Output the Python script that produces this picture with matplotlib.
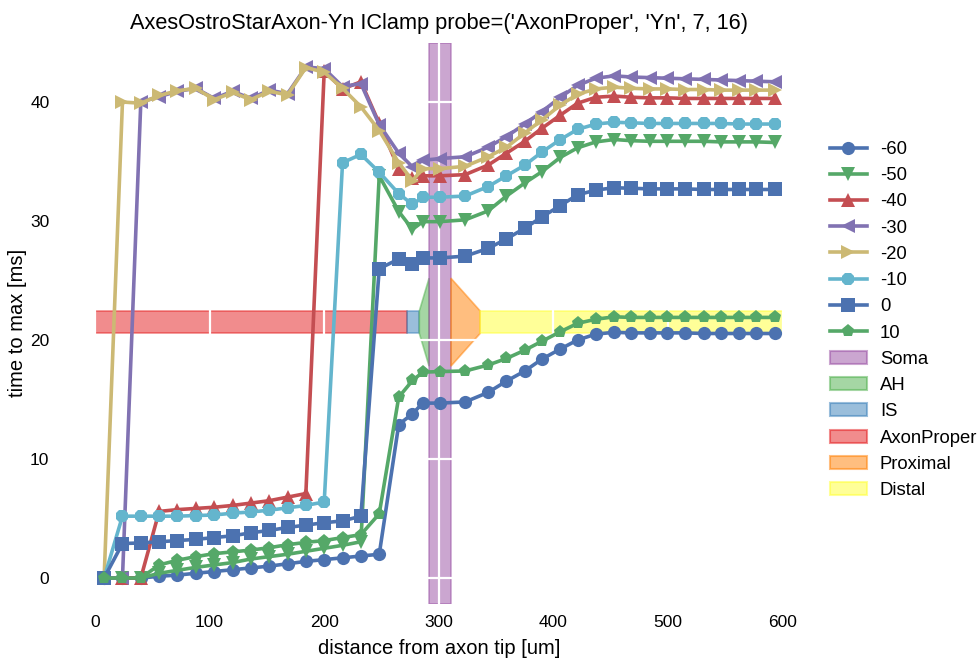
import matplotlib
matplotlib.use("Agg")
import matplotlib.pyplot as plt
from matplotlib.patches import Polygon, Patch

plt.rcParams['font.family'] = ['Liberation Sans', 'DejaVu Sans']

# distance from axon tip [um] for each sampled segment
dist = [8, 24, 40, 56, 72, 88, 104, 120, 136, 152, 168, 184, 200, 216, 232, 248,
        265, 277, 286, 301, 323, 343, 359, 375, 390, 406, 421, 437, 453, 468,
        484, 499, 515, 531, 546, 562, 577, 593]

labels = ['-60', '-50', '-40', '-30', '-20', '-10', '0', '10']

v_m60 = [0, 0, 0, 0.15, 0.25, 0.4, 0.55, 0.7, 0.85, 1.0, 1.2, 1.4, 1.55, 1.7, 1.85, 2.0,
         12.9, 13.8, 14.7, 14.7, 14.8, 15.6, 16.55, 17.4, 18.4, 19.25, 20.0, 20.5, 20.65, 20.6,
         20.6, 20.6, 20.6, 20.55, 20.55, 20.55, 20.55, 20.55]
v_m50 = [0, 0, 0, 0.4, 0.65, 0.9, 1.1, 1.3, 1.6, 1.8, 2.0, 2.25, 2.5, 2.75, 3.05, 33.8,
         30.8, 29.3, 29.95, 29.95, 30.1, 30.85, 32.1, 33.2, 34.15, 35.35, 36.15, 36.65, 36.85, 36.75,
         36.7, 36.7, 36.7, 36.7, 36.65, 36.65, 36.65, 36.6]
v_m40 = [0, 0, 0, 5.6, 5.75, 5.85, 5.95, 6.1, 6.3, 6.5, 6.8, 7.1, 42.6, 41.1, 41.7, 38.2,
         34.4, 33.6, 33.8, 33.8, 33.9, 34.7, 35.7, 36.7, 37.8, 38.9, 39.9, 40.4, 40.5, 40.4,
         40.35, 40.35, 40.3, 40.3, 40.3, 40.3, 40.3, 40.3]
v_m30 = [0, 0, 40.0, 40.45, 40.9, 41.15, 40.3, 40.9, 40.3, 41.0, 40.7, 42.95, 42.8, 41.3, 41.55, 38.1,
         35.7, 34.55, 35.1, 35.25, 35.4, 36.2, 37.1, 38.15, 39.2, 40.4, 41.4, 42.0, 42.2, 42.1,
         42.05, 42.0, 41.95, 41.9, 41.85, 41.8, 41.75, 41.7]
v_m20 = [0, 40.0, 39.9, 40.55, 40.95, 41.15, 40.2, 40.8, 40.2, 40.9, 40.6, 42.9, 42.5, 41.15, 39.6, 37.6,
         34.9, 33.4, 34.4, 34.4, 34.6, 35.4, 36.2, 37.4, 38.5, 39.75, 40.65, 41.1, 41.25, 41.15,
         41.1, 41.1, 41.05, 41.05, 41.0, 41.0, 41.0, 41.0]
v_m10 = [0, 5.2, 5.2, 5.2, 5.2, 5.25, 5.3, 5.45, 5.55, 5.7, 5.9, 6.1, 6.4, 34.9, 35.6, 34.1,
         32.3, 31.4, 32.0, 32.0, 32.1, 32.9, 33.8, 34.7, 35.8, 36.85, 37.7, 38.15, 38.3, 38.25,
         38.2, 38.2, 38.2, 38.2, 38.2, 38.15, 38.15, 38.15]
v_0 = [0, 2.9, 2.95, 3.05, 3.15, 3.25, 3.4, 3.55, 3.8, 4.0, 4.25, 4.45, 4.65, 4.8, 5.2, 26.0,
       26.8, 26.35, 26.9, 26.9, 27.05, 27.7, 28.5, 29.4, 30.35, 31.3, 32.2, 32.6, 32.8, 32.75,
       32.7, 32.7, 32.7, 32.65, 32.65, 32.65, 32.65, 32.65]
v_10 = [0, 0, 0, 1.1, 1.5, 1.8, 2.05, 2.2, 2.35, 2.55, 2.8, 3.0, 3.15, 3.4, 3.65, 5.4,
        15.2, 16.6, 17.3, 17.35, 17.4, 17.9, 18.45, 19.15, 19.9, 20.7, 21.4, 21.75, 21.95, 21.9,
        21.9, 21.9, 21.9, 21.9, 21.9, 21.9, 21.9, 21.9]

series = [v_m60, v_m50, v_m40, v_m30, v_m20, v_m10, v_0, v_10]
markers = ['o', 'v', '^', '<', '>', '8', 's', 'p']
colors = ['#4C72B0', '#55A868', '#C44E52', '#8172B2', '#CCB974', '#64B5CD', '#4C72B0', '#55A868']

# morphology cartoon: section names and boundaries along the axon [um]
sec_names = ['Soma', 'AH', 'IS', 'AxonProper', 'Proximal', 'Distal']
sec_colors = ['#984EA3', '#4DAF4A', '#377EB8', '#E41A1C', '#FF7F00', '#FFFF33']
axon_start, is_start, ah_start, soma_start, prox_start, dist_start, axon_end = 0, 272, 283, 291.5, 310.5, 336, 600
cartoon_y = 21.5
thin_half = 0.95
wide_half = 3.7

fig = plt.figure(figsize=(9.8, 6.58), dpi=100)
ax = fig.add_axes([0.0618, 0.0828, 0.772, 0.8515])
ax.set_facecolor('white')
for s in ax.spines.values():
    s.set_visible(False)

def rect(x0, x1, h, c):
    return Polygon([[x0, cartoon_y - h], [x1, cartoon_y - h], [x1, cartoon_y + h], [x0, cartoon_y + h]],
                   closed=True, facecolor=c, edgecolor=c, alpha=0.5, lw=1.2, zorder=1)

ax.add_patch(rect(axon_start, is_start, thin_half, sec_colors[3]))
ax.add_patch(rect(is_start, ah_start, thin_half, sec_colors[2]))
ax.add_patch(Polygon([[ah_start, cartoon_y - thin_half], [soma_start, cartoon_y - wide_half],
                      [soma_start, cartoon_y + wide_half], [ah_start, cartoon_y + thin_half]],
                     closed=True, facecolor=sec_colors[1], edgecolor=sec_colors[1], alpha=0.5, lw=1.2, zorder=1))
ax.axvspan(soma_start, prox_start, facecolor=sec_colors[0], edgecolor=sec_colors[0], alpha=0.5, lw=1.2, zorder=1)
ax.add_patch(Polygon([[prox_start, cartoon_y - wide_half], [dist_start, cartoon_y - thin_half],
                      [dist_start, cartoon_y + thin_half], [prox_start, cartoon_y + wide_half]],
                     closed=True, facecolor=sec_colors[4], edgecolor=sec_colors[4], alpha=0.5, lw=1.2, zorder=1))
ax.add_patch(rect(dist_start, axon_end, thin_half, sec_colors[5]))

for lab, vals, m, c in zip(labels, series, markers, colors):
    ax.plot(dist, vals, marker=m, color=c, lw=2.6, markersize=9.5, label=lab, zorder=2,
            markeredgewidth=0)

ax.set_axisbelow('line')
ax.grid(True, color='white', linewidth=1.6)
ax.tick_params(length=0, labelsize=12.5, pad=8)
ax.set_xticks([0, 100, 200, 300, 400, 500, 600])
ax.set_yticks([0, 10, 20, 30, 40])
ax.set_xlim(-30, 630)
ax.set_ylim(-2.14, 44.94)
ax.set_xlabel('distance from axon tip [um]', fontsize=14.5, labelpad=6.5)
ax.set_ylabel('time to max [ms]', fontsize=14.5, labelpad=2)
ax.set_title("AxesOstroStarAxon-Yn IClamp probe=('AxonProper', 'Yn', 7, 16)", fontsize=15.7, pad=10)

handles, labs = ax.get_legend_handles_labels()
for n, c in zip(sec_names, sec_colors):
    handles.append(Patch(facecolor=c, edgecolor=c, alpha=0.5, lw=1.5))
    labs.append(n)
ax.legend(handles, labs, loc='center left', bbox_to_anchor=(0.995, 0.506), frameon=False,
          fontsize=13.3, handlelength=2.0, handletextpad=0.7, labelspacing=0.5)

fig.savefig('out.png', dpi=100)
